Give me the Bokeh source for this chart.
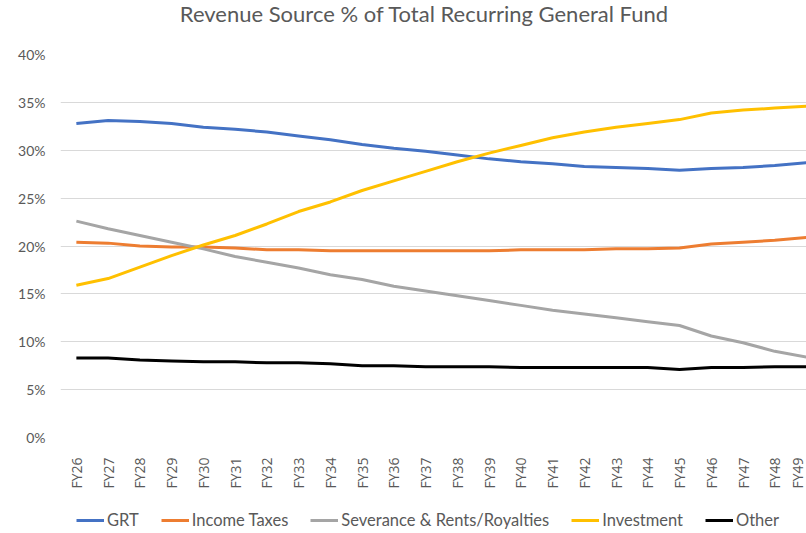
import math
from bokeh.plotting import figure
from bokeh.layouts import column
from bokeh.models import Range1d, FixedTicker, Legend, LegendItem, Label
from bokeh.embed import file_html
from bokeh.resources import INLINE

title_text = "Revenue Source % of Total Recurring General Fund"
years = ["FY26", "FY27", "FY28", "FY29", "FY30", "FY31", "FY32", "FY33", "FY34", "FY35",
         "FY36", "FY37", "FY38", "FY39", "FY40", "FY41", "FY42", "FY43", "FY44", "FY45",
         "FY46", "FY47", "FY48", "FY49"]
grt = [32.8, 33.1, 33.0, 32.8, 32.4, 32.2, 31.9, 31.5, 31.1, 30.6, 30.2, 29.9, 29.5, 29.1,
       28.8, 28.6, 28.3, 28.2, 28.1, 27.9, 28.1, 28.2, 28.4, 28.7]
income = [20.4, 20.3, 20.0, 19.9, 19.9, 19.8, 19.6, 19.6, 19.5, 19.5, 19.5, 19.5, 19.5, 19.5,
          19.6, 19.6, 19.6, 19.7, 19.7, 19.8, 20.2, 20.4, 20.6, 20.9]
severance = [22.6, 21.8, 21.1, 20.4, 19.7, 18.9, 18.3, 17.7, 17.0, 16.5, 15.8, 15.3, 14.8, 14.3,
             13.8, 13.3, 12.9, 12.5, 12.1, 11.7, 10.6, 9.9, 9.0, 8.4]
investment = [15.9, 16.6, 17.8, 19.0, 20.1, 21.1, 22.3, 23.6, 24.6, 25.8, 26.8, 27.8, 28.8, 29.7,
              30.5, 31.3, 31.9, 32.4, 32.8, 33.2, 33.9, 34.2, 34.4, 34.6]
other = [8.3, 8.3, 8.1, 8.0, 7.9, 7.9, 7.8, 7.8, 7.7, 7.5, 7.5, 7.4, 7.4, 7.4,
         7.3, 7.3, 7.3, 7.3, 7.3, 7.1, 7.3, 7.3, 7.4, 7.4]
y_ticks = [0, 5, 10, 15, 20, 25, 30, 35, 40]

series = [
    ("GRT", grt, "#4472C4"),
    ("Income Taxes", income, "#ED7D31"),
    ("Severance & Rents/Royalties", severance, "#A5A5A5"),
    ("Investment", investment, "#FFC000"),
    ("Other", other, "#000000"),
]

xs = list(range(len(years)))

# title strip
tf = figure(width=806, height=30, output_backend="svg", toolbar_location=None,
            x_range=Range1d(0, 1), y_range=Range1d(0, 1),
            min_border_left=0, min_border_right=0, min_border_top=0, min_border_bottom=0)
tf.axis.visible = False
tf.grid.grid_line_color = None
tf.outline_line_color = None
tf.add_layout(Label(x=364, y=17, x_units="screen", y_units="screen", text=title_text,
                    text_align="center", text_baseline="middle", text_font="Lato",
                    text_font_size="22px", text_color="#595959"))

p = figure(width=806, height=472, output_backend="svg", toolbar_location=None,
           x_range=Range1d(-0.5, 23.0), y_range=Range1d(0, 40),
           min_border_left=60, min_border_right=0, min_border_top=24,
           min_border_bottom=65)
p.outline_line_color = None
p.background_fill_color = "white"
p.border_fill_color = "white"

for name, vals, col in series:
    p.line(xs, vals, line_color=col, line_width=3)

p.xgrid.grid_line_color = None
p.ygrid.grid_line_color = "#D9D9D9"
p.ygrid.grid_line_width = 1

p.yaxis.ticker = FixedTicker(ticks=y_ticks)
p.yaxis.major_label_overrides = {t: f"{t}%" for t in y_ticks}
p.yaxis.axis_line_color = None
p.yaxis.major_tick_line_color = None
p.yaxis.minor_tick_line_color = None
p.yaxis.major_label_standoff = 9
p.yaxis.major_label_text_font = "Lato"
p.yaxis.major_label_text_font_size = "14px"
p.yaxis.major_label_text_color = "#595959"

p.xaxis.ticker = FixedTicker(ticks=xs)
p.xaxis.major_label_overrides = {i: y for i, y in enumerate(years)}
p.xaxis.major_label_orientation = math.pi / 2
p.xaxis.axis_line_color = None
p.xaxis.major_tick_line_color = None
p.xaxis.minor_tick_line_color = None
p.xaxis.major_label_standoff = 14
p.xaxis.major_label_text_font = "Open Sans"
p.xaxis.major_label_text_font_size = "14px"
p.xaxis.major_label_text_color = "#595959"

# legend strip below the chart
lf = figure(width=806, height=31, output_backend="svg", toolbar_location=None,
            x_range=Range1d(0, 1), y_range=Range1d(0, 1),
            min_border_left=0, min_border_right=0, min_border_top=0, min_border_bottom=0)
lf.axis.visible = False
lf.grid.grid_line_color = None
lf.outline_line_color = None
items = []
for name, vals, col in series:
    r = lf.line([-5, -4], [-5, -4], line_color=col, line_width=3)
    items.append(LegendItem(label=name, renderers=[r]))
legend = Legend(items=items, orientation="horizontal", location=(16, 3),
                label_text_font="Lato", label_text_font_size="16.5px",
                label_text_color="#595959", glyph_width=28, glyph_height=14,
                label_standoff=3, spacing=22, padding=4, margin=0,
                border_line_color=None, background_fill_alpha=0)
lf.add_layout(legend, "center")

layout = column(tf, p, lf, spacing=0)
open("out.html", "w").write(file_html(layout, INLINE))
